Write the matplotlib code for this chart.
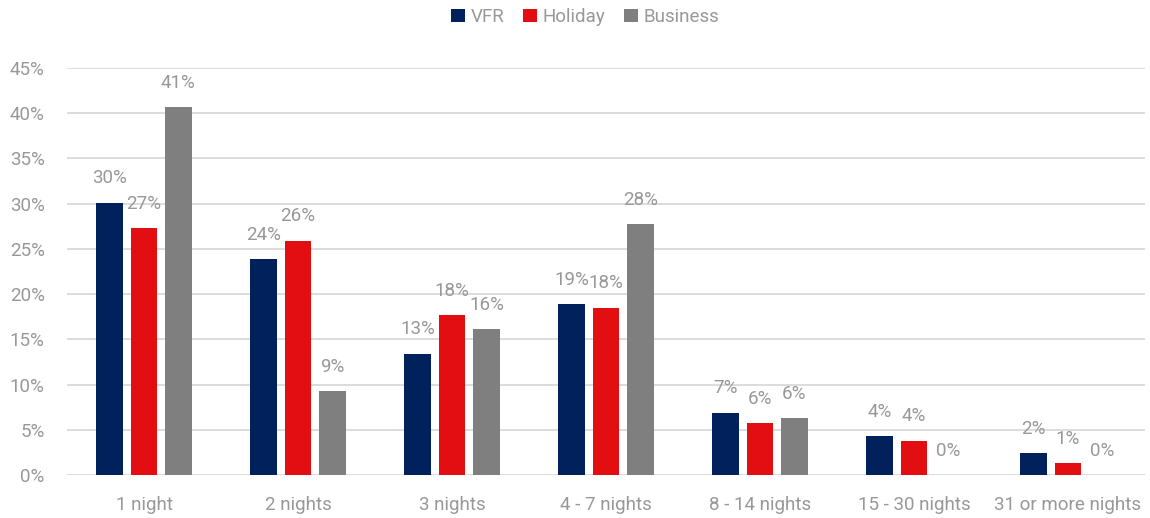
import matplotlib
matplotlib.use("Agg")
import matplotlib.pyplot as plt
import numpy as np

categories = ['1 night', '2 nights', '3 nights', '4 - 7 nights', '8 - 14 nights', '15 - 30 nights', '31 or more nights']
vfr = [30.1, 23.9, 13.4, 18.9, 6.9, 4.3, 2.4]
holiday = [27.3, 25.9, 17.7, 18.5, 5.7, 3.8, 1.3]
business = [40.7, 9.3, 16.1, 27.7, 6.3, 0.0, 0.0]
series_names = ['VFR', 'Holiday', 'Business']
colors = ['#00215B', '#E30E12', '#7F7F7F']
yticks = [0, 5, 10, 15, 20, 25, 30, 35, 40, 45]

TEXT = '#989898'
FS = 13.5
plt.rcParams['font.family'] = ['Roboto', 'DejaVu Sans']

fig = plt.figure(figsize=(11.5, 5.18), dpi=100)
ax = fig.add_axes([67 / 1150, 43 / 518, 1078 / 1150, 407 / 518])

x = np.arange(len(categories))
width = 0.175
offsets = [-0.224, 0, 0.224]

for vals, name, col, off in zip([vfr, holiday, business], series_names, colors, offsets):
    bars = ax.bar(x + off, vals, width, color=col, label=name, zorder=3)
    for b, v in zip(bars, vals):
        ax.annotate('%d%%' % round(v), (b.get_x() + b.get_width() / 2, v),
                    xytext=(0, 17.5), textcoords='offset points',
                    ha='center', va='center', color=TEXT, fontsize=FS)

ax.set_xlim(-0.5, len(categories) - 0.5)
ax.set_ylim(0, 45)
ax.set_yticks(yticks)
ax.set_yticklabels(['%d%%' % t for t in yticks])
ax.set_xticks(x)
ax.set_xticklabels(categories)
ax.grid(axis='y', color='#D9D9D9', lw=1.3, zorder=0)
ax.tick_params(length=0, colors=TEXT, labelsize=FS)
ax.tick_params(axis='x', pad=15)
ax.tick_params(axis='y', pad=16)
for s in ax.spines.values():
    s.set_visible(False)

leg = ax.legend(loc='center', bbox_to_anchor=(585 / 1150, 1 - 17 / 518), bbox_transform=fig.transFigure,
                ncol=3, frameon=False, fontsize=FS, handlelength=0.75, handleheight=0.75,
                handletextpad=0.3, columnspacing=1.0)
for t in leg.get_texts():
    t.set_color(TEXT)

fig.savefig('out.png', dpi=100)
